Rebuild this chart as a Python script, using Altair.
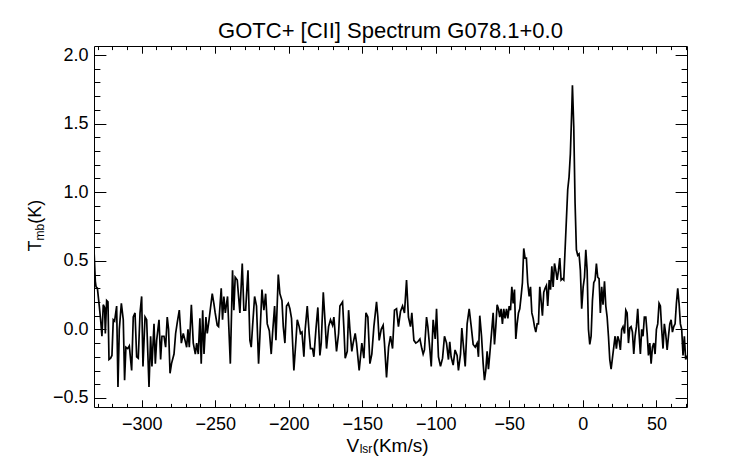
import altair as alt
import pandas as pd

FONT = "Liberation Sans"
TITLE = "GOTC+ [CII] Spectrum G078.1+0.0"

# ---- spectrum (V_lsr in km/s, T_mb in K) ----
vel_a = [-332.4, -331.5, -331.0, -330.1, -328.8, -327.9, -327.0, -326.1, -325.2, -324.7,
         -323.8, -322.9, -322.2, -321.1, -320.2, -319.3, -318.4, -317.0, -316.1, -315.2,
         -313.8, -312.5, -311.6, -310.7, -309.5, -308.4, -306.8, -305.7, -304.5, -303.4,
         -302.3, -301.1, -300.0, -299.1, -297.7, -296.6, -295.0, -293.9, -293.0, -291.6,
         -290.7, -289.8, -288.2, -287.1, -286.2, -284.8, -283.7, -282.6, -281.7, -280.7,
         -279.7, -278.0, -276.9, -275.8, -274.4, -273.0, -271.7, -270.5, -269.4, -268.5,
         -267.6, -266.2, -264.9, -263.5, -262.6, -261.5, -260.4, -259.5, -258.5, -257.6,
         -256.3, -255.4, -254.4, -253.6, -252.0, -250.9, -250.0, -248.6, -247.7, -245.9,
         -245.0, -244.1, -243.1, -241.6, -239.7, -238.2, -237.3, -236.4, -235.0, -233.2,
         -231.6, -230.5, -229.3, -227.7, -226.4, -225.5, -224.6, -223.2, -221.9, -220.5,
         -219.6, -218.2, -216.9, -215.7, -214.6, -213.2, -211.9, -211.0, -209.6, -208.7,
         -207.1, -206.0, -204.6, -203.7, -202.6, -201.5, -200.3]
tmb_a = [0.58, 0.35, 0.31, 0.30, 0.17, 0.07, -0.05, 0.18, 0.16, -0.03,
         0.21, 0.20, -0.22, -0.21, -0.19, 0.07, 0.06, 0.17, -0.42, 0.00,
         0.19, 0.07, -0.37, -0.13, -0.14, -0.12, -0.30, 0.09, 0.12, -0.20,
         -0.21, 0.12, 0.24, -0.27, 0.09, 0.07, -0.42, -0.05, -0.27, 0.04,
         -0.25, -0.08, 0.07, -0.22, -0.05, -0.05, -0.13, 0.09, 0.00, -0.32,
         -0.25, -0.18, -0.03, 0.05, 0.14, -0.10, -0.03, -0.08, -0.13, 0.00,
         -0.13, 0.18, -0.10, -0.18, -0.10, -0.18, 0.08, -0.25, 0.14, -0.18,
         0.09, -0.03, 0.05, 0.12, 0.26, 0.19, 0.12, 0.03, 0.02, 0.30,
         0.07, 0.24, 0.12, 0.24, -0.25, 0.43, 0.14, 0.38, 0.36, 0.12,
         0.48, 0.14, 0.14, 0.43, -0.08, -0.13, 0.02, 0.24, 0.17, -0.25,
         -0.05, 0.29, 0.14, 0.26, 0.04, -0.01, -0.18, -0.03, 0.17, -0.08,
         0.40, 0.26, 0.21, 0.02, -0.10, 0.17, 0.19]

vel_b = [-199.2, -198.1, -196.5, -195.1, -194.2, -192.9, -192.0, -191.0, -189.7, -188.8,
         -187.4, -186.1, -185.2, -183.8, -182.9, -181.5, -180.2, -178.8, -177.9, -176.5,
         -175.2, -174.3, -172.9, -171.6, -170.2, -169.3, -167.5, -166.1, -165.2, -163.4,
         -162.5, -161.6, -160.2, -159.3, -158.4, -157.1, -156.2, -154.8, -153.9, -152.1,
         -151.2, -150.3, -148.9, -147.5, -146.2, -144.8, -143.5, -142.1, -140.3, -139.4,
         -138.5, -137.1, -135.8, -134.9, -133.5, -132.1, -130.8, -129.4, -128.1, -126.7,
         -125.4, -124.0, -122.6, -121.3, -119.9, -118.6, -117.2, -116.3, -114.9, -113.6,
         -112.2, -110.8, -109.5, -108.6, -107.7, -106.3, -105.4, -104.0, -103.1, -101.8,
         -100.4, -99.5, -98.2, -96.8, -95.4, -94.1, -92.7, -91.4, -90.5, -89.6,
         -88.2, -86.9, -85.5, -84.6, -83.2, -82.3, -81.4, -80.0, -78.7, -77.3,
         -75.9, -74.6, -73.2, -71.9, -71.0]
tmb_b = [0.15, 0.08, -0.30, -0.08, 0.07, 0.02, -0.03, -0.02, -0.20, 0.00,
         0.17, -0.03, -0.14, -0.14, -0.20, 0.00, 0.16, -0.19, -0.10, 0.27,
         0.04, -0.14, 0.02, 0.07, 0.03, 0.09, -0.16, -0.03, 0.17, 0.20,
         0.01, -0.21, -0.16, 0.14, 0.00, -0.16, -0.10, -0.03, -0.10, -0.30,
         -0.20, -0.10, -0.21, 0.12, 0.09, -0.25, -0.18, 0.02, 0.20, 0.09,
         -0.08, 0.00, 0.03, -0.10, -0.35, -0.13, -0.05, -0.14, 0.14, 0.15,
         0.02, 0.13, 0.17, 0.12, 0.36, 0.09, 0.02, 0.12, -0.08, -0.10,
         -0.09, -0.07, -0.14, -0.18, -0.15, 0.09, 0.02, -0.15, -0.27, 0.07,
         -0.07, 0.15, -0.20, -0.27, -0.21, -0.05, -0.10, -0.22, -0.09, -0.20,
         -0.26, -0.15, -0.19, -0.30, -0.18, 0.01, -0.10, -0.27, 0.04, 0.15,
         0.02, -0.11, -0.13, -0.10, -0.20]

vel_c = [-70.1, -68.9, -67.8, -66.9, -66.0, -65.1, -64.2, -63.3, -61.9, -61.0,
         -60.1, -59.2, -58.3, -57.4, -56.5, -55.6, -54.7, -53.8, -52.9, -51.9,
         -51.0, -50.1, -49.2, -48.3, -47.4, -46.5, -45.6, -44.7, -43.8, -42.9,
         -42.0, -41.1, -40.2, -39.3, -38.4, -37.5, -36.5, -35.6, -34.7, -33.8,
         -32.9, -32.0, -31.1, -30.2, -29.3, -28.4, -27.5, -26.6, -25.7, -24.8,
         -23.9, -22.9, -22.0, -21.1, -20.2, -19.3, -18.4, -17.5, -16.6, -15.7,
         -14.8, -13.9, -13.0, -12.1, -11.2, -10.3, -9.4, -8.5, -7.5, -7.1,
         -6.2, -5.3, -4.4, -3.5, -2.6, -1.7, -0.8, 0.2, 1.1, 2.0,
         2.9, 3.8, 4.7, 5.6, 6.5, 7.4, 8.3, 9.2, 10.1, 11.0,
         11.9, 12.8, 13.7, 14.7, 15.6, 16.5, 17.4, 18.3, 19.2, 20.1,
         21.0, 21.9, 22.8, 23.7, 24.6, 25.5, 26.4, 27.3, 28.3, 29.2,
         30.1, 31.0, 31.9, 32.8, 33.7, 34.6, 35.5, 36.4, 37.3, 38.2,
         39.1, 40.0, 40.9, 41.8, 42.8, 43.7, 44.6, 45.5, 46.4, 47.3,
         48.2, 49.1, 50.0, 50.9, 51.8, 52.7, 53.6, 54.5, 55.4, 56.3,
         57.3, 58.2, 59.1, 60.0, 60.9, 61.8, 62.7, 63.6, 64.5, 65.4,
         66.3, 67.2, 68.1, 69.0, 69.9, 70.8]
tmb_c = [0.10, -0.05, -0.25, -0.37, -0.30, -0.16, -0.29, -0.18, 0.00, 0.12,
         -0.11, 0.02, 0.18, 0.15, 0.09, 0.15, 0.04, 0.15, 0.08, 0.15,
         0.08, 0.17, 0.14, 0.31, 0.19, 0.29, -0.07, 0.04, 0.12, 0.15,
         0.24, 0.34, 0.59, 0.52, 0.52, 0.34, 0.24, 0.31, 0.12, 0.08,
         0.02, -0.02, 0.04, 0.04, 0.31, 0.21, 0.10, 0.27, 0.30, 0.32,
         0.17, 0.36, 0.29, 0.46, 0.31, 0.48, 0.43, 0.36, 0.43, 0.52,
         0.36, 0.37, 0.36, 0.58, 0.80, 1.02, 1.11, 1.28, 1.62, 1.78,
         1.48, 0.92, 0.58, 0.54, 0.55, 0.43, 0.15, 0.31, 0.38, 0.58,
         0.43, 0.00, -0.11, -0.05, 0.21, 0.34, 0.36, 0.48, 0.38, 0.37,
         0.12, 0.31, 0.18, 0.35, 0.17, 0.09, -0.05, -0.22, -0.29, -0.21,
         -0.13, -0.05, -0.14, -0.05, -0.08, -0.15, 0.00, 0.02, -0.03, 0.14,
         0.12, -0.10, 0.01, 0.02, -0.02, -0.18, -0.05, 0.02, 0.15, -0.03,
         -0.18, 0.00, -0.05, 0.09, 0.09, -0.03, -0.19, -0.10, -0.25, -0.13,
         -0.10, -0.18, 0.00, 0.04, 0.19, 0.17, 0.00, -0.14, 0.04, -0.03,
         -0.15, -0.05, 0.04, 0.07, -0.02, 0.02, 0.04, 0.19, 0.30, 0.19,
         0.04, 0.00, -0.19, -0.05, -0.22, -0.19]

# ---- axes ----
X_DOMAIN = [-332.4, 70.8]
Y_DOMAIN = [-0.566, 2.066]
X_MAJOR = [-300, -250, -200, -150, -100, -50, 0, 50]
X_MINOR = list(range(-330, 71, 10))
Y_MAJOR = [-0.5, 0.0, 0.5, 1.0, 1.5, 2.0]
Y_MINOR = [round(-0.5 + 0.1 * i, 1) for i in range(26)]

X_TITLE = ["V", "lsr", "(Km/s)"]
Y_TITLE = ["T", "mb", "(K)"]

W, H = 593, 361

spec = pd.DataFrame({"v": vel_a + vel_b + vel_c, "t": tmb_a + tmb_b + tmb_c})

xs = alt.Scale(domain=X_DOMAIN, nice=False, zero=False)
ys = alt.Scale(domain=Y_DOMAIN, nice=False, zero=False)


def tick_axis(orient, values, size, offset):
    return alt.Axis(orient=orient, values=values, tickSize=size, offset=offset,
                    labels=False, domain=False, grid=False, ticks=True,
                    tickColor="black", tickWidth=1, title=None)


line = alt.Chart(spec).mark_line(color="black", strokeWidth=1.7, clip=True).encode(
    x=alt.X("v:Q", scale=xs,
            axis=alt.Axis(orient="bottom", values=X_MAJOR, ticks=False, domain=False,
                          grid=False, labelFont=FONT, labelFontSize=18, labelColor="black",
                          labelPadding=22.5, labelBaseline="alphabetic", labelFlush=False,
                          labelOverlap=False, title=None)),
    y=alt.Y("t:Q", scale=ys,
            axis=alt.Axis(orient="left", values=Y_MAJOR, format=".1f", ticks=False,
                          domain=False, grid=False, labelFont=FONT, labelFontSize=18,
                          labelColor="black", labelPadding=6, labelBaseline="middle",
                          labelOverlap=False, title=None)),
)


def ticks_layer(xorient, xvals, xsize, yorient, yvals, ysize):
    return alt.Chart(spec).mark_line(strokeOpacity=0).encode(
        x=alt.X("v:Q", scale=xs, axis=tick_axis(xorient, xvals, xsize, -H)),
        y=alt.Y("t:Q", scale=ys, axis=tick_axis(yorient, yvals, ysize, -W)),
    )


t_major_in = ticks_layer("top", X_MAJOR, 7.2, "right", Y_MAJOR, 11.9)
t_minor_in = ticks_layer("top", X_MINOR, 3.6, "right", Y_MINOR, 5.9)
t_major_out = ticks_layer("bottom", X_MAJOR, 7.2, "left", Y_MAJOR, 11.9)
t_minor_out = ticks_layer("bottom", X_MINOR, 3.6, "left", Y_MINOR, 5.9)


def label(text, x, y, size, angle=0):
    return alt.Chart(pd.DataFrame({"s": [text]})).mark_text(
        font=FONT, fontSize=size, align="left", baseline="alphabetic",
        color="black", angle=angle
    ).encode(x=alt.value(x), y=alt.value(y), text="s:N")


title = alt.Chart(pd.DataFrame({"s": [TITLE]})).mark_text(
    font=FONT, fontSize=22, align="center", baseline="alphabetic", color="black"
).encode(x=alt.value(W / 2), y=alt.value(-7.7), text="s:N")

xt = [label(X_TITLE[0], 252.5, 405.5, 19),
      label(X_TITLE[1], 265.7, 407.3, 12),
      label(X_TITLE[2], 278.6, 405.5, 19)]
yt = [label(Y_TITLE[0], -53, 205.5, 18, 270),
      label(Y_TITLE[1], -50.5, 194.5, 12, 270),
      label(Y_TITLE[2], -53, 177.8, 18, 270)]

chart = alt.layer(
    t_major_in, t_minor_in, t_major_out, t_minor_out, line, title, *xt, *yt
).resolve_axis(
    x="independent", y="independent"
).properties(
    width=W, height=H,
    autosize=alt.AutoSizeParams(type="none"),
    padding={"left": 86, "top": 38, "right": 47, "bottom": 49},
    background="white",
).configure_view(stroke="black", strokeWidth=1)

chart.save("out.html", embed_options={"renderer": "svg", "actions": False})
